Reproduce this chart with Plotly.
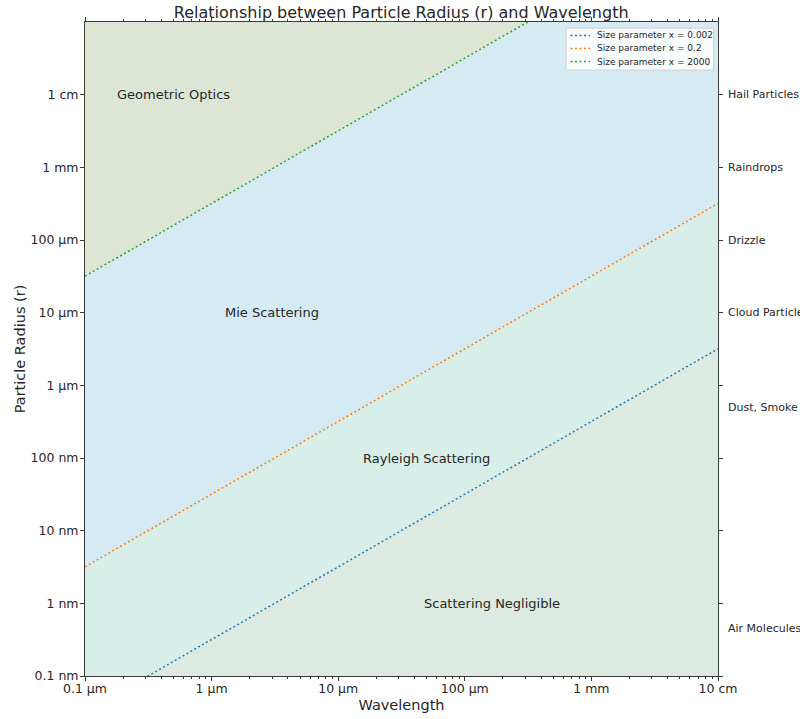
import math
import plotly.graph_objects as go

# ---------------- data ----------------
wavelength_ends = [1e-7, 1e-2]            # m
size_params = ["0.002", "0.2", "2000"]
radius_x0002 = [3.18e-11, 3.18e-6]        # m
radius_x02 = [3.18e-9, 3.18e-4]
radius_x2000 = [3.18e-5, 3.18]

x_tickvals = [1e-7, 1e-6, 1e-5, 1e-4, 1e-3, 1e-2]
x_ticktext = ["0.1 µm", "1 µm", "10 µm", "100 µm", "1 mm", "10 cm"]
y_tickvals = [1e-10, 1e-9, 1e-8, 1e-7, 1e-6, 1e-5, 1e-4, 1e-3, 1e-2]
y_ticktext = ["0.1 nm", "1 nm", "10 nm", "100 nm", "1 µm", "10 µm", "100 µm", "1 mm", "1 cm"]

particle_labels = ["Hail Particles", "Raindrops", "Drizzle", "Cloud Particles", "Dust, Smoke", "Air Molecules"]
particle_radius = [1e-2, 1e-3, 1e-4, 1e-5, 4.9e-7, 4.5e-10]

region_labels = ["Geometric Optics", "Mie Scattering", "Rayleigh Scattering", "Scattering Negligible"]
region_x = [5e-7, 3e-6, 5e-5, 1.65e-4]
region_y = [1e-2, 1e-5, 1e-7, 1e-9]

# ---------------- styles ----------------
line_colors = ["#1f77b4", "#ff7f0e", "#2ca02c"]
fill_geo = "#dde6d5"
fill_mie = "#d5eaf2"
fill_ray = "#d8efe9"
fill_neg = "#dceae2"
FONT = "DejaVu Sans"
TXT = "#262626"
DASH = "2px,2.5px"

fig = go.Figure()

xs = [wavelength_ends[0], wavelength_ends[1], wavelength_ends[1], wavelength_ends[0]]
far_top, far_bottom = 1e3, 1e-14


def add_region(ylist, color):
    fig.add_trace(go.Scatter(x=xs + [xs[0]], y=ylist + [ylist[0]], mode="lines",
                             fill="toself", fillcolor=color, line=dict(width=0),
                             hoverinfo="skip", showlegend=False))


add_region([radius_x2000[0], radius_x2000[1], far_top, far_top], fill_geo)
add_region([radius_x02[0], radius_x02[1], radius_x2000[1], radius_x2000[0]], fill_mie)
add_region([radius_x0002[0], radius_x0002[1], radius_x02[1], radius_x02[0]], fill_ray)
add_region([far_bottom, far_bottom, radius_x0002[1], radius_x0002[0]], fill_neg)

for sp, r, c in zip(size_params, [radius_x0002, radius_x02, radius_x2000], line_colors):
    fig.add_trace(go.Scatter(x=wavelength_ends, y=r, mode="lines",
                             name=f"Size parameter x = {sp}", showlegend=False,
                             line=dict(color=c, width=1.5, dash=DASH)))

for t, xv, yv in zip(region_labels, region_x, region_y):
    fig.add_annotation(x=math.log10(xv), y=math.log10(yv),
                       text=t, showarrow=False, xanchor="center", yanchor="middle",
                       font=dict(family=FONT, size=13, color=TXT))

for t, yv in zip(particle_labels, particle_radius):
    fig.add_annotation(x=1, xref="paper", y=math.log10(yv), yref="y",
                       text=t, showarrow=False, xanchor="left", yanchor="middle",
                       xshift=8, font=dict(family=FONT, size=11, color=TXT))

# ---- compact legend (box, dotted samples, labels) ----
leg_x0, leg_x1 = 0.760, 0.993
leg_y1, leg_y0 = 0.9905, 0.9265
item_y = [0.9795, 0.9595, 0.9395]
fig.add_shape(type="rect", xref="paper", yref="paper", x0=leg_x0, x1=leg_x1, y0=leg_y0, y1=leg_y1,
              fillcolor="rgba(255,255,255,0.85)", line=dict(color="#d0d0d0", width=1), layer="above")
for sp, c, yy in zip(size_params, line_colors, item_y):
    fig.add_shape(type="line", xref="paper", yref="paper", x0=leg_x0 + 0.007, x1=leg_x0 + 0.038,
                  y0=yy, y1=yy, line=dict(color=c, width=1.5, dash=DASH), layer="above")
    fig.add_annotation(x=leg_x0 + 0.046, y=yy, xref="paper", yref="paper",
                       text=f"Size parameter x = {sp}", showarrow=False,
                       xanchor="left", yanchor="middle",
                       font=dict(family=FONT, size=9, color=TXT))

axis_common = dict(showline=True, linecolor="#3a3a3a", linewidth=1, mirror="allticks",
                   ticks="outside", ticklen=4, tickcolor="#3a3a3a", tickwidth=1,
                   showgrid=False, zeroline=False, automargin=False,
                   tickfont=dict(family=FONT, size=12.5, color=TXT))

fig.update_xaxes(type="log", range=[-7, -2], tickvals=x_tickvals, ticktext=x_ticktext,
                 ticklabelstandoff=-3,
                 minor=dict(ticks="outside", ticklen=2, tickcolor="#3a3a3a", dtick="D1", showgrid=False),
                 title=dict(text="Wavelength", font=dict(family=FONT, size=14.5, color=TXT), standoff=4),
                 **axis_common)
fig.update_yaxes(type="log", range=[-10, -1], tickvals=y_tickvals, ticktext=y_ticktext,
                 ticklabelstandoff=-1,
                 title=dict(text="Particle Radius (r)", font=dict(family=FONT, size=14.5, color=TXT), standoff=1),
                 **axis_common)

fig.update_layout(
    width=800, height=719,
    margin=dict(l=85, r=82, t=22, b=43, autoexpand=False),
    paper_bgcolor="white", plot_bgcolor="white",
    title=dict(text="Relationship between Particle Radius (r) and Wavelength",
               x=0.5015, xanchor="center", y=0.983, yanchor="middle",
               font=dict(family=FONT, size=16, color=TXT)),
    showlegend=False,
)

fig.write_html("out.html", config={"displayModeBar": False},
               post_script="document.body.style.margin='0';document.body.style.overflow='hidden';")
